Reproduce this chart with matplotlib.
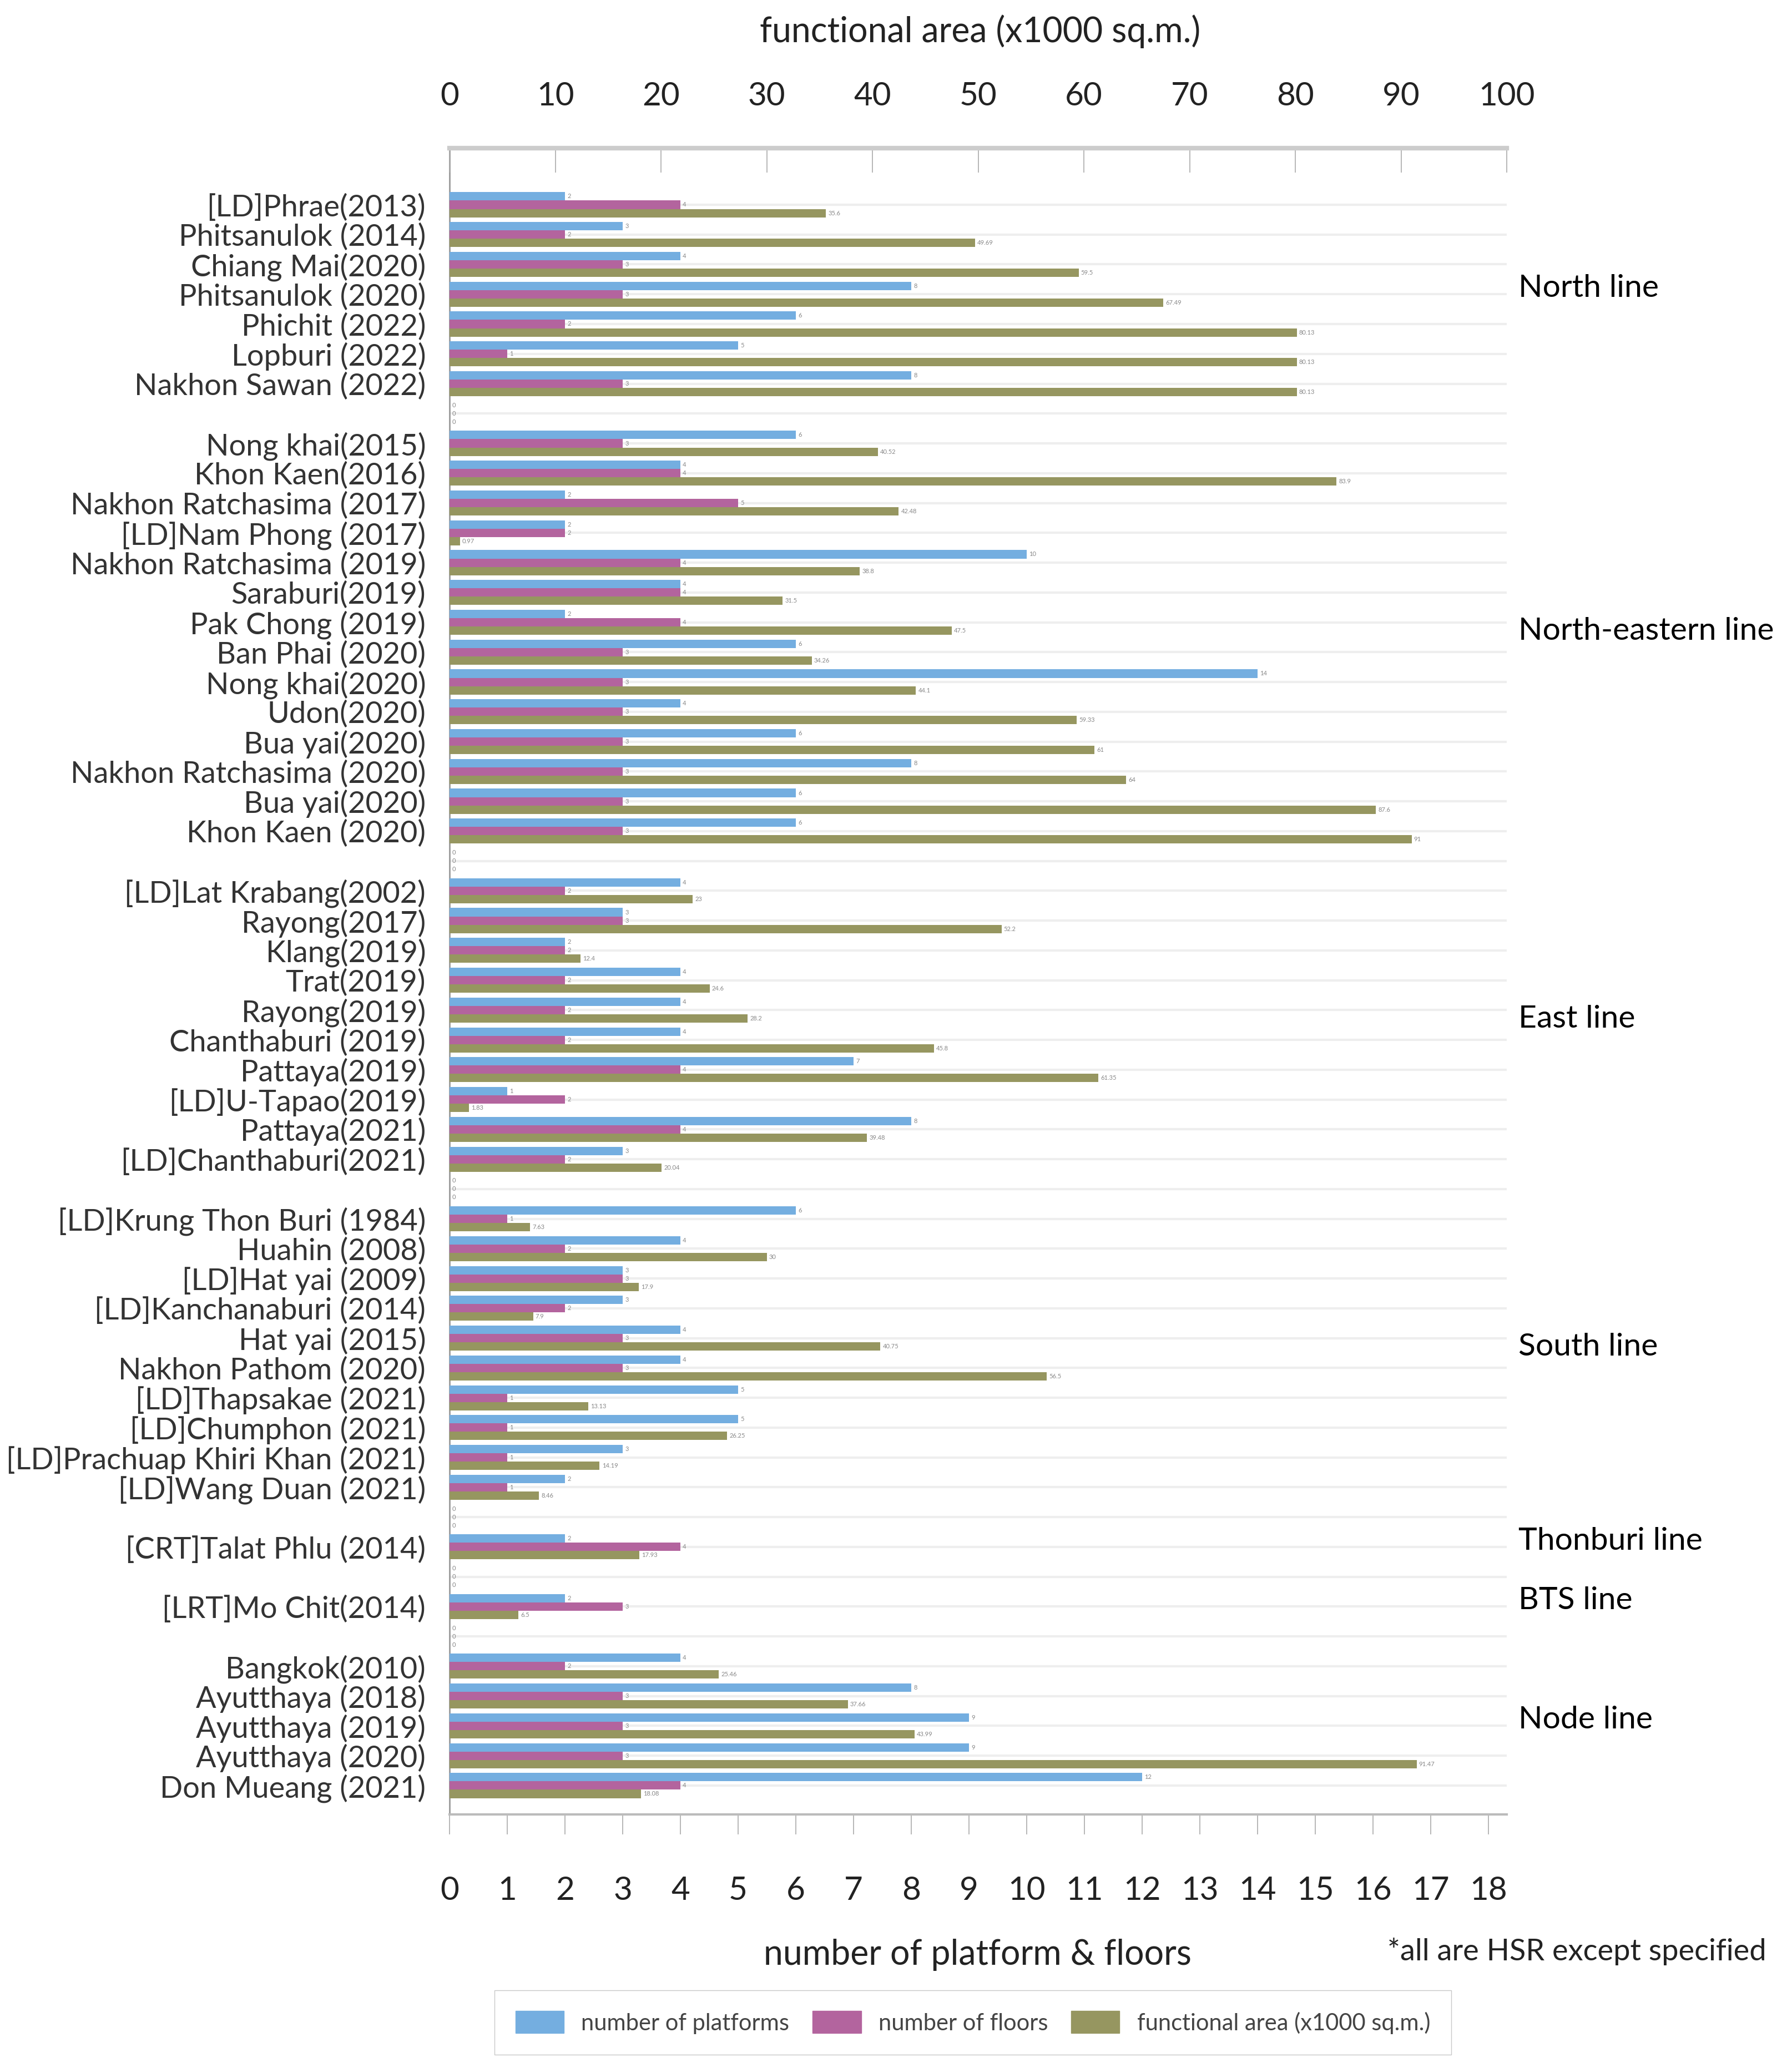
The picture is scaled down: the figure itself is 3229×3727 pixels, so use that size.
import matplotlib
matplotlib.use("Agg")
import matplotlib.pyplot as plt
import matplotlib.transforms as mtransforms
from matplotlib.patches import Patch
import numpy as np

plt.rcParams['font.family'] = ['Liberation Sans Narrow', 'Lato', 'DejaVu Sans']

# stations, grouped by line (top to bottom)
groups = ["North line", "North-eastern line", "East line", "South line",
          "Thonburi line", "BTS line", "Node line"]
group_sizes = [7, 14, 10, 10, 1, 1, 5]

stations = [
    "[LD]Phrae(2013)", "Phitsanulok (2014)", "Chiang Mai(2020)", "Phitsanulok (2020)",
    "Phichit (2022)", "Lopburi (2022)", "Nakhon Sawan (2022)",
    "Nong khai(2015)", "Khon Kaen(2016)", "Nakhon Ratchasima (2017)", "[LD]Nam Phong (2017)",
    "Nakhon Ratchasima (2019)", "Saraburi(2019)", "Pak Chong (2019)", "Ban Phai (2020)",
    "Nong khai(2020)", "Udon(2020)", "Bua yai(2020)", "Nakhon Ratchasima (2020)",
    "Bua yai(2020)", "Khon Kaen (2020)",
    "[LD]Lat Krabang(2002)", "Rayong(2017)", "Klang(2019)", "Trat(2019)", "Rayong(2019)",
    "Chanthaburi (2019)", "Pattaya(2019)", "[LD]U-Tapao(2019)", "Pattaya(2021)",
    "[LD]Chanthaburi(2021)",
    "[LD]Krung Thon Buri (1984)", "Huahin (2008)", "[LD]Hat yai (2009)",
    "[LD]Kanchanaburi (2014)", "Hat yai (2015)", "Nakhon Pathom (2020)",
    "[LD]Thapsakae (2021)", "[LD]Chumphon (2021)", "[LD]Prachuap Khiri Khan (2021)",
    "[LD]Wang Duan (2021)",
    "[CRT]Talat Phlu (2014)",
    "[LRT]Mo Chit(2014)",
    "Bangkok(2010)", "Ayutthaya (2018)", "Ayutthaya (2019)", "Ayutthaya (2020)",
    "Don Mueang (2021)",
]

platforms = [2, 3, 4, 8, 6, 5, 8,
             6, 4, 2, 2, 10, 4, 2, 6, 14, 4, 6, 8, 6, 6,
             4, 3, 2, 4, 4, 4, 7, 1, 8, 3,
             6, 4, 3, 3, 4, 4, 5, 5, 3, 2,
             2,
             2,
             4, 8, 9, 9, 12]

floors = [4, 2, 3, 3, 2, 1, 3,
          3, 4, 5, 2, 4, 4, 4, 3, 3, 3, 3, 3, 3, 3,
          2, 3, 2, 2, 2, 2, 4, 2, 4, 2,
          1, 2, 3, 2, 3, 3, 1, 1, 1, 1,
          4,
          3,
          2, 3, 3, 3, 4]

area = [35.6, 49.69, 59.5, 67.49, 80.13, 80.13, 80.13,
        40.52, 83.9, 42.48, 0.97, 38.8, 31.5, 47.5, 34.26, 44.1, 59.33, 61, 64, 87.6, 91,
        23, 52.2, 12.4, 24.6, 28.2, 45.8, 61.35, 1.83, 39.48, 20.04,
        7.63, 30, 17.9, 7.9, 40.75, 56.5, 13.13, 26.25, 14.19, 8.46,
        17.93,
        6.5,
        25.46, 37.66, 43.99, 91.47, 18.08]

blue = '#74aee0'
pink = '#b3649e'
olive = '#969660'

# row positions with an empty row between lines
pos, gaps, centers = [], [], []
r = 0
for gi, n in enumerate(group_sizes):
    pos.extend(range(r, r + n))
    centers.append(r + (n - 1) / 2)
    r += n
    if gi < len(group_sizes) - 1:
        gaps.append(r)
        r += 1
pos = np.array(pos)
gaps = np.array(gaps)
nrows = r

fig = plt.figure(figsize=(32.3, 37.27), dpi=100)
ax = fig.add_axes([0.2508, 0.1226, 0.5898, 0.8058])
ax2 = ax.twiny()

h = 0.28
lab = dict(fontsize=8, color='#888888', padding=3)
b1 = ax.barh(pos - h, platforms, height=h, color=blue, zorder=3)
b2 = ax.barh(pos, floors, height=h, color=pink, zorder=3)
b3 = ax2.barh(pos + h, area, height=h, color=olive, zorder=3)
ax.bar_label(b1, fmt='%d', **lab)
ax.bar_label(b2, fmt='%d', **lab)
ax2.bar_label(b3, fmt='%g', **lab)

# empty separator rows still carry "0" labels
zeros = np.zeros(len(gaps))
for off in (-h, 0):
    ax.bar_label(ax.barh(gaps + off, zeros, height=h), fmt='%d', **lab)
ax2.bar_label(ax2.barh(gaps + h, zeros, height=h), fmt='%d', **lab)

ax.set_xlim(0, 18.32)
ax2.set_xlim(0, 100)
ax.set_ylim(nrows - 1 + 0.97, -1.90)

ylabels = [''] * nrows
for p, s in zip(pos, stations):
    ylabels[p] = s
ax.set_yticks(range(nrows))
ax.set_yticklabels(ylabels)
ax.tick_params(axis='y', length=0, pad=31, labelsize=39, labelcolor='#333333')
ax.yaxis.grid(True, color='#eeeeee', linewidth=3)
ax.set_axisbelow(True)

ax.set_xticks(range(19))
ax.tick_params(axis='x', direction='out', length=26, width=1.2, color='#aaaaaa',
               pad=54, labelsize=42, labelcolor='#222222')
ax2.set_xticks(range(0, 101, 10))
ax2.tick_params(axis='x', direction='in', length=32, width=1.2, color='#aaaaaa',
                pad=48, labelsize=42, labelcolor='#222222')

for s in ('right', 'top'):
    ax.spines[s].set_visible(False)
ax.spines['left'].set_color('#999999')
ax.spines['left'].set_linewidth(2)
ax.spines['bottom'].set_color('#bbbbbb')
ax.spines['bottom'].set_linewidth(3)
for s in ('right', 'left', 'bottom'):
    ax2.spines[s].set_visible(False)
ax2.spines['top'].set_color('#cccccc')
ax2.spines['top'].set_linewidth(6)

trans = mtransforms.blended_transform_factory(ax.transAxes, ax.transData)
for name, c in zip(groups, centers):
    ax.text(1.011, c - 0.2, name, transform=trans, ha='left', va='center',
            fontsize=41, color='black')

fig.text(0.5468, 0.9847, 'functional area (x1000 sq.m.)', ha='center', va='center',
         fontsize=45, color='#222222')
fig.text(0.5455, 0.0547, 'number of platform & floors', ha='center', va='center',
         fontsize=45, color='#222222')
fig.text(0.9854, 0.0563, '*all are HSR except specified', ha='right', va='center',
         fontsize=39, color='#222222')

handles = [Patch(color=blue), Patch(color=pink), Patch(color=olive)]
leg = fig.legend(handles, ['number of platforms', 'number of floors',
                           'functional area (x1000 sq.m.)'],
                 loc='center', bbox_to_anchor=(0.5427, 0.0220), ncol=3, fontsize=30,
                 frameon=True, fancybox=False, edgecolor='#bbbbbb',
                 handlelength=2.1, handleheight=1.1, handletextpad=0.75,
                 columnspacing=1.0, borderpad=0.9)
for t in leg.get_texts():
    t.set_color('#444444')

fig.savefig('out.png', dpi=100)
